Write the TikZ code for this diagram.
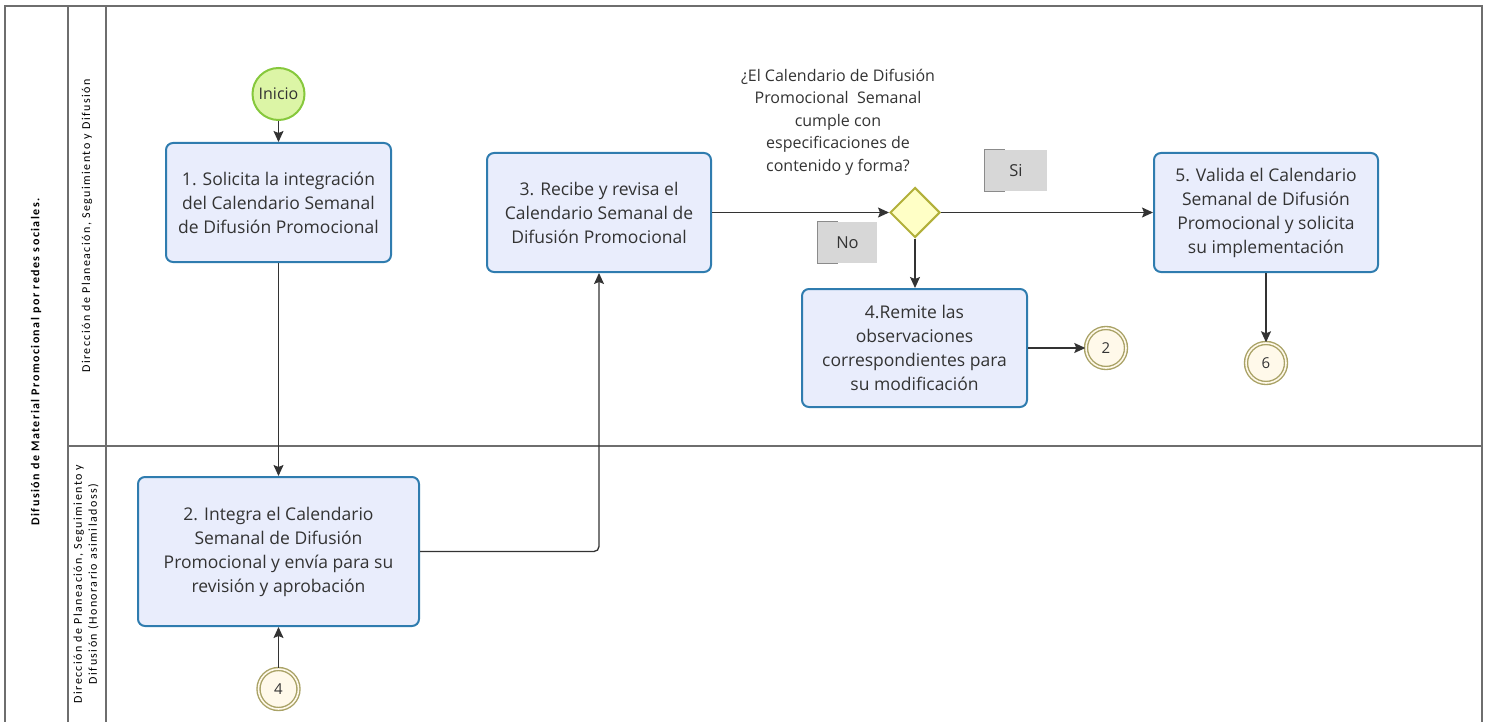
\documentclass[tikz,border=0pt]{standalone}
\usepackage{fontspec}
\setmainfont{Open Sans}
\newfontfamily\lanefont[LetterSpace=12]{Carlito}
\usetikzlibrary{arrows.meta,shapes.geometric}
\definecolor{taskfill}{HTML}{E9EDFC}
\definecolor{taskline}{HTML}{2F7CAF}
\definecolor{startfill}{HTML}{DCF5A6}
\definecolor{startline}{HTML}{86C83C}
\definecolor{gatefill}{HTML}{FFFFC6}
\definecolor{gateline}{HTML}{B2B03A}
\definecolor{endfill}{HTML}{FFF9EA}
\definecolor{endline}{HTML}{A9A266}
\definecolor{poolline}{HTML}{6E6E6E}
\definecolor{txt}{HTML}{333333}
\definecolor{notefill}{HTML}{D7D7D7}
\tikzset{
  task/.style={draw=taskline, line width=2pt, fill=taskfill, rounded corners=7pt,
    inner sep=0pt, align=center, text=txt, font=\fontsize{17.5}{24}\selectfont},
  startev/.style={circle, draw=startline, line width=2pt, fill=startfill, minimum size=52pt,
    inner sep=0pt, text=txt, font=\fontsize{16}{20}\selectfont},
  gate/.style={diamond, draw=gateline, line width=2pt, fill=gatefill, minimum size=50pt,
    inner sep=0pt},
  linkev/.style={circle, draw=endline, line width=1.4pt, double=endfill, double distance=1.6pt,
    fill=endfill, minimum size=40pt, inner sep=0pt, text=txt, font=\fontsize{15}{18}\selectfont},
  flow/.style={draw=txt, line width=1.3pt, -{Stealth[length=11pt,width=10pt,inset=2pt]}},
  note/.style={fill=notefill, inner sep=0pt, text=txt, font=\fontsize{16.5}{20}\selectfont},
  notebracket/.style={draw=poolline!80, line width=1.2pt},
  pool/.style={draw=poolline, line width=2pt},
  lanelabel/.style={rotate=90, align=center, text=black, font=\lanefont\fontsize{12}{15}\selectfont}
}
\begin{document}
\begin{tikzpicture}[x=1pt,y=-1pt]
\useasboundingbox (0,0) rectangle (1491,722);

% pool and lanes
\draw[pool] (5,722) -- (5,6) -- (1482,6) -- (1482,722);
\draw[pool] (68,6) -- (68,722);
\draw[pool] (106,6) -- (106,722);
\draw[pool] (68,446) -- (1482,446);

\node[lanelabel, font=\lanefont\bfseries\fontsize{12}{15}\selectfont] (poolname) at (36,362)
  {Difusión de Material Promocional por redes sociales.};
\node[lanelabel] (lane1) at (87,226) {Dirección de Planeación, Seguimiento y Difusión};
\node[lanelabel] (lane2) at (86,584) {Dirección de Planeación, Seguimiento y\\Difusión (Honorario asimiladoss)};

% events
\node[startev] (inicio) at (278.5,94) {Inicio};
\node[linkev] (e2) at (1106,348) {2};
\node[linkev] (e6) at (1266,363) {6};
\node[linkev] (e4) at (278.5,689) {4};

% tasks
\node[task, minimum width=225pt, minimum height=119pt] (t1) at (278.5,202.5)
  {1. Solicita la integración\\del Calendario Semanal\\de Difusión Promocional};
\node[task, minimum width=281pt, minimum height=149pt] (t2) at (278.5,551.5)
  {2. Integra el Calendario\\Semanal de Difusión\\Promocional y envía para su\\revisión y aprobación};
\node[task, minimum width=224pt, minimum height=119pt] (t3) at (599,212.5)
  {3. Recibe y revisa el\\Calendario Semanal de\\Difusión Promocional};
\node[task, minimum width=225pt, minimum height=118pt] (t4) at (914.5,348)
  {4.Remite las\\observaciones\\correspondientes para\\su modificación};
\node[task, minimum width=224pt, minimum height=119pt] (t5) at (1266,212.5)
  {5. Valida el Calendario\\Semanal de Difusión\\Promocional y solicita\\su implementación};

% gateway and its question
\node[gate] (g1) at (915,212.5) {};
\node[align=center, text=txt, font=\fontsize{16}{22.6}\selectfont] (question) at (838,122)
  {¿El Calendario de Difusión\\Promocional\ \ Semanal\\cumple con\\especificaciones de\\contenido y forma?};

% outcome labels
\node[note, minimum width=62pt, minimum height=41pt] (si) at (1016,170.5) {Si};
\node[note, minimum width=59pt, minimum height=41pt] (no) at (847.5,242.5) {No};
\draw[notebracket] ([xshift=20pt]si.north west) -- (si.north west) -- (si.south west) -- ([xshift=20pt]si.south west);
\draw[notebracket] ([xshift=20pt]no.north west) -- (no.north west) -- (no.south west) -- ([xshift=20pt]no.south west);

% sequence flows
\draw[flow] (inicio) -- (t1);
\draw[flow] (t1) -- (t2);
\draw[flow, rounded corners=5pt] (t2.east) -- (t3.south |- t2.east) -- (t3.south);
\draw[flow] (t3.east) -- (g1.west);
\draw[flow] (g1.east) -- (t5.west);
\draw[flow] (g1.south) -- (t4.north -| g1.south);
\draw[flow] (t4.east |- e2) -- (e2);
\draw[flow] (t5) -- (e6);
\draw[flow] (e4) -- (t2);
\end{tikzpicture}
\end{document}
